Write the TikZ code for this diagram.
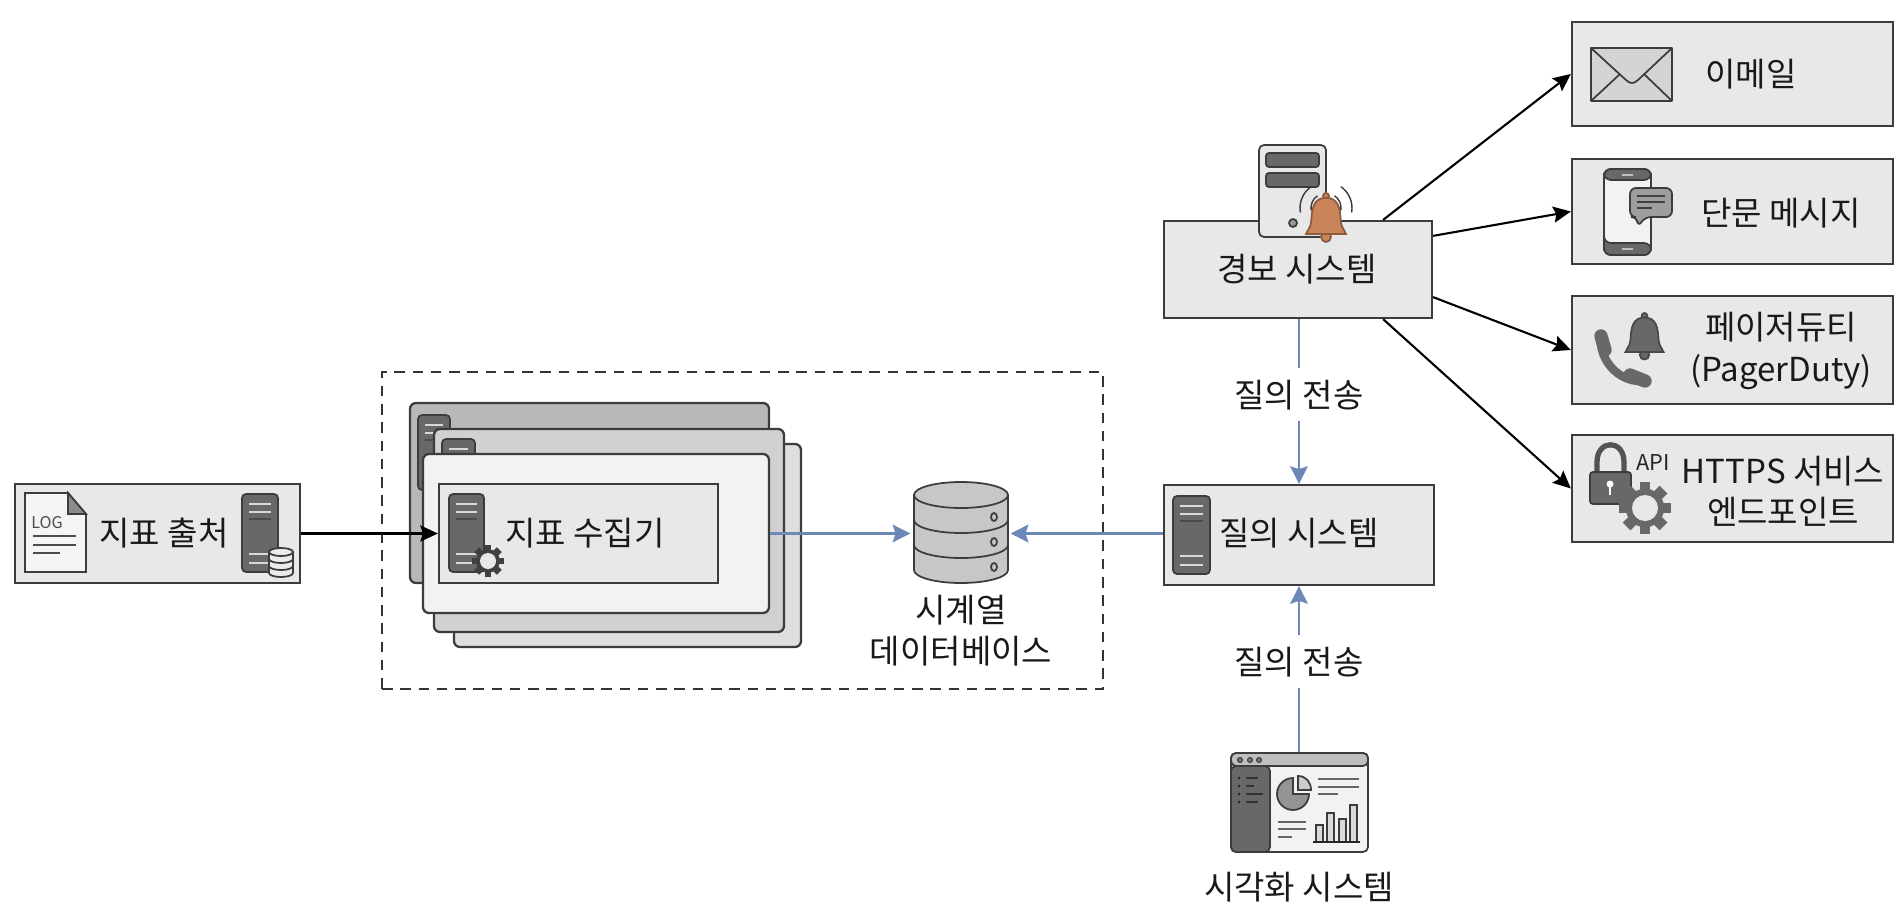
\documentclass[tikz,border=0pt]{standalone}
\usepackage{fontspec}
\setmainfont{Noto Sans CJK KR}
\usetikzlibrary{positioning,arrows.meta}

\definecolor{boxgray}{HTML}{E8E8E8}
\definecolor{edgegray}{HTML}{3C3C3C}
\definecolor{towergray}{HTML}{686868}
\definecolor{flowblue}{HTML}{6C88B6}
\definecolor{bellorange}{HTML}{C98459}

\tikzset{
	box/.style={shape=rectangle,draw=edgegray,fill=boxgray,line width=0.65pt,inner sep=0pt},
	card/.style={shape=rectangle,draw=edgegray,line width=0.65pt,rounded corners=0.6mm,inner sep=0pt},
	caption/.style={inner sep=0pt,align=center,text=black!90,font=\fontsize{9.4}{11.7}\selectfont},
	querytext/.style={caption,fill=white,inner sep=1pt,minimum height=5.3mm},
	push/.style={draw=black,line width=0.6pt,-{Stealth[length=5pt,width=4.6pt,inset=0.8pt]}},
	flow/.style={draw=flowblue,line width=0.65pt,-{Stealth[length=5pt,width=5pt,inset=0.8pt]}},
	icon/.style={draw=edgegray,line width=0.5pt},
}

% Dark server tower: left, top, width, height
\newcommand{\towericon}[4]{
	\begin{scope}[shift={(#1,#2)}]
		\draw[icon,fill=towergray,rounded corners=0.4mm] (0,0) rectangle (#3,#4);
		\draw[white!85!black,line width=0.5pt] (7,10) -- (#3-7,10) (7,18) -- (#3-7,18);
		\draw[black!70,line width=0.5pt] (7,25) -- (#3-7,25);
		\draw[white!85!black,line width=0.5pt] (7,#4-18) -- (#3-7,#4-18) (7,#4-9) -- (#3-7,#4-9);
	\end{scope}
}

% Gear: centre, radius, colour, hole colour
\newcommand{\gearicon}[5]{
	\begin{scope}[shift={(#1,#2)}]
		\foreach \a in {0,45,...,315}
			\draw[#4,line width=#3*0.12pt] (\a:#3*0.6) -- (\a:#3);
		\fill[#4] (0,0) circle [radius=#3*0.74];
		\fill[#5] (0,0) circle [radius=#3*0.5];
	\end{scope}
}

% Three layer disk stack: centre x, top y, x radius, y radius, step, fill
\newcommand{\dbicon}[6]{
	\begin{scope}[shift={(#1,#2)}]
		\draw[icon,fill=#6] (-#3,0) -- (-#3,3*#5) arc [start angle=180,end angle=0,x radius=#3,y radius=#4] -- (#3,0) -- cycle;
		\draw[icon,fill=#6] (0,0) ellipse [x radius=#3,y radius=#4];
		\draw[icon] (-#3,#5) arc [start angle=180,end angle=0,x radius=#3,y radius=#4];
		\draw[icon] (-#3,2*#5) arc [start angle=180,end angle=0,x radius=#3,y radius=#4];
	\end{scope}
}

% Bell: centre x, top y, scale, fill
\newcommand{\bellicon}[4]{
	\begin{scope}[shift={(#1,#2)},scale=#3]
		\draw[icon,draw=#4!70!black,fill=#4] (0,44) circle [radius=5];
		\draw[icon,draw=#4!70!black,fill=#4] (0,3) circle [radius=3];
		\draw[icon,draw=#4!70!black,fill=#4] (-3,5) .. controls (-15,7) and (-14,22) .. (-15,30) .. controls (-16,36) and (-19,37) .. (-20,41) -- (20,41) .. controls (19,37) and (16,36) .. (15,30) .. controls (14,22) and (15,7) .. (3,5) -- cycle;
	\end{scope}
}

\begin{document}
\begin{tikzpicture}[x=0.1mm,y=-0.1mm]
	\useasboundingbox (0,0) rectangle (1900,920);

	% Metric source
	\node [box,minimum width=28.5mm,minimum height=9.9mm] (source) at (157.5,533.5) {};
	\draw[icon,fill=white!96!black] (25,493) -- (68,493) -- (86,514) -- (86,572) -- (25,572) -- cycle;
	\draw[icon,fill=black!45] (68,493) -- (86,514) -- (68,514) -- cycle;
	\node [inner sep=0pt,text=black!70,font=\fontsize{4.6}{5}\selectfont] (logtext) at (47,523) {LOG};
	\draw[black!70,line width=0.5pt] (33,536) -- (76,536) (33,545) -- (76,545) (33,553) -- (60,553);
	\node [caption] (sourcetext) at (164,533) {지표 출처};
	\towericon{242}{494}{36}{78}
	\dbicon{281}{552}{12}{4}{7}{white!92!black}

	% Collector group
	\node [shape=rectangle,draw=black!80,dash pattern=on 3pt off 2.2pt,line width=0.6pt,minimum width=72.1mm,minimum height=31.7mm] (cluster) at (742.5,530.5) {};
	\node [card,fill=black!28,minimum width=35.9mm,minimum height=18mm] (collectora) at (589.5,493) {};
	\towericon{418}{415}{32}{75}
	\node [card,fill=black!13,minimum width=34.7mm,minimum height=20.3mm] (collectorc) at (627.5,545.5) {};
	\node [card,fill=black!18,minimum width=35mm,minimum height=20.3mm] (collectorb) at (609,530.5) {};
	\towericon{442}{439}{33}{40}
	\node [card,fill=black!5,minimum width=34.6mm,minimum height=15.9mm] (collector) at (596,533.5) {};
	\node [box,minimum width=27.9mm,minimum height=9.9mm] (scraper) at (578.5,533.5) {};
	\towericon{449}{494}{35}{78}
	\gearicon{488}{561}{16}{black!75}{boxgray}
	\node [caption] (scrapertext) at (585,533) {지표 수집기};

	% Time series database
	\node [inner sep=0pt,minimum width=9.9mm,minimum height=10mm] (tsdb) at (960.5,533.5) {};
	\dbicon{961}{495}{47}{13}{25}{black!22}
	\foreach \ypos in {517,542,567}
		\draw[icon] (994,\ypos) circle [x radius=3,y radius=4];
	\node [caption] (tsdbtext) at (961,631) {시계열\\데이터베이스};

	% Query system
	\node [box,minimum width=27mm,minimum height=10mm] (query) at (1299,535) {};
	\towericon{1173}{496}{37}{78}
	\node [caption] (querytext) at (1299,533) {질의 시스템};

	% Alert system
	\node [box,minimum width=26.8mm,minimum height=9.7mm] (alert) at (1298,269.5) {};
	\draw[icon,fill=boxgray,rounded corners=0.5mm] (1259,145) rectangle (1326,237);
	\draw[icon,fill=towergray,rounded corners=0.3mm] (1266,153) rectangle (1319,167);
	\draw[icon,fill=towergray,rounded corners=0.3mm] (1266,173) rectangle (1319,187);
	\fill[black!60] (1312,160) circle [radius=1.6] (1312,180) circle [radius=1.6];
	\draw[icon,fill=black!40] (1293,223) circle [radius=4];
	\foreach \rad in {15,26} {
		\draw[icon,line width=0.4pt] ([shift={(170:\rad)}]1326,208) arc [start angle=170,end angle=235,radius=\rad];
		\draw[icon,line width=0.4pt] ([shift={(305:\rad)}]1326,208) arc [start angle=305,end angle=370,radius=\rad];
	}
	\bellicon{1326}{193}{1}{bellorange}
	\node [caption] (alerttext) at (1297,269) {경보 시스템};

	% Targets
	\node [box,minimum width=32.1mm,minimum height=10.4mm] (email) at (1732.5,74) {};
	\draw[icon,fill=black!17,line join=round] (1591,48) rectangle (1672,101);
	\draw[icon] (1591,48) -- (1626,80) .. controls (1630,84) and (1634,84) .. (1638,80) -- (1672,48);
	\draw[icon] (1591,101) -- (1620,74) (1672,101) -- (1644,74);
	\node [caption] (emailtext) at (1751,74) {이메일};

	\node [box,minimum width=32.1mm,minimum height=10.5mm] (sms) at (1732.5,211.5) {};
	\draw[icon,fill=black!5,rounded corners=0.7mm] (1604,169) rectangle (1651,255);
	\draw[icon,fill=towergray,rounded corners=0.7mm] (1604,180) |- (1651,169) |- cycle;
	\draw[icon,fill=towergray,rounded corners=0.7mm] (1604,243) |- (1651,255) |- cycle;
	\draw[black!25,line width=0.5pt] (1622,175) -- (1633,175) (1622,249) -- (1633,249);
	\draw[icon,fill=black!38,rounded corners=0.6mm] (1630,188) -- (1672,188) -- (1672,217) -- (1645,217) -- (1638,227) -- (1637,217) -- (1630,217) -- cycle;
	\draw[black!75,line width=0.45pt] (1637,196) -- (1665,196) (1637,202) -- (1665,202) (1637,208) -- (1652,208);
	\node [caption] (smstext) at (1781,213) {단문 메시지};

	\node [box,minimum width=32.1mm,minimum height=10.8mm] (pager) at (1732.5,350) {};
	\bellicon{1644.5}{313}{0.95}{towergray}
	\draw[towergray,line width=2.4pt,line cap=round] (1601,340) .. controls (1600,360) and (1618,381) .. (1640,381);
	\draw[towergray,line width=3.8pt,line cap=round] (1601,336) -- (1605,350) (1630,375) -- (1645,381);
	\node [caption] (pagertext) at (1781,351) {페이저듀티\\(PagerDuty)};

	\node [box,minimum width=32.1mm,minimum height=10.7mm] (https) at (1732.5,488.5) {};
	\draw[towergray!80!black,line width=1.5pt] (1597,472) -- (1597,462) .. controls (1597,439) and (1624,439) .. (1624,462) -- (1624,472);
	\draw[icon,fill=towergray,rounded corners=0.3mm] (1590,472) rectangle (1631,504);
	\fill[white] (1610,484) circle [radius=3.5];
	\fill[white] (1609,484) rectangle (1611,495);
	\gearicon{1645}{508}{26}{towergray}{boxgray}
	\node [inner sep=0pt,text=black!85,font=\fontsize{6.2}{7}\selectfont] (apitext) at (1653,463) {API};
	\node [caption] (httpstext) at (1783,491) {HTTPS 서비스\\엔드포인트};

	% Visualization system
	\node [inner sep=0pt,minimum width=13.8mm,minimum height=10mm] (vis) at (1299.5,803) {};
	\draw[icon,fill=black!5,rounded corners=0.5mm] (1231,753) rectangle (1368,852);
	\draw[icon,fill=black!25,rounded corners=0.5mm] (1231,766) |- (1368,753) |- cycle;
	\foreach \xpos in {1240,1250,1259}
		\draw[icon,fill=black!55,line width=0.3pt] (\xpos,760) circle [radius=2.5];
	\draw[icon,fill=towergray,rounded corners=0.5mm] (1231,766) -- (1270,766) -- (1270,852) -- (1231,852) -- cycle;
	\foreach \ypos/\xend in {778/1258,786/1254,794/1263,802/1258} {
		\fill[black!85] (1239,\ypos) circle [radius=1.3];
		\draw[black!80,line width=0.5pt] (1246,\ypos) -- (\xend,\ypos);
	}
	\draw[icon,fill=black!42] (1293,794) -- (1293,778) arc [start angle=270,end angle=0,radius=16] -- cycle;
	\draw[icon,fill=black!20] (1298,776) -- (1298,790) -- (1311,790) .. controls (1311,782) and (1306,776) .. (1298,776) -- cycle;
	\draw[black!60,line width=0.5pt] (1318,779) -- (1359,779) (1318,787) -- (1359,787) (1318,794) -- (1338,794);
	\draw[black!60,line width=0.5pt] (1278,822) -- (1306,822) (1278,829) -- (1306,829) (1278,837) -- (1292,837);
	\foreach \xpos/\ytop in {1316/825,1327/813,1339/819,1350/805}
		\draw[icon,fill=black!15,line width=0.4pt] (\xpos,842) rectangle (\xpos+7,\ytop);
	\draw[black!85,line width=0.6pt] (1313,842) -- (1360,842);
	\node [caption] (vistext) at (1299,887) {시각화 시스템};

	% Metric flow
	\draw[push] (source.east) -- (scraper.west);
	\draw[flow] (collector.east) -- (tsdb.west);
	\draw[flow,line width=0.8pt] (query.west |- tsdb.east) -- (tsdb.east);

	% Query flow
	\draw[flow] (alert.south -| query.north) -- node[querytext,pos=0.46] (querya) {질의 전송} (query.north);
	\draw[flow] (vis.north -| query.south) -- node[querytext,pos=0.545] (queryb) {질의 전송} (query.south);

	% Alert routes
	\draw[push] ([xshift=-5mm]alert.north east) -- (email.west);
	\draw[push] ([yshift=-1.6mm]alert.north east) -- (sms.west);
	\draw[push] ([yshift=2.2mm]alert.south east) -- (pager.west);
	\draw[push] ([xshift=-5mm]alert.south east) -- (https.west);
\end{tikzpicture}
\end{document}
